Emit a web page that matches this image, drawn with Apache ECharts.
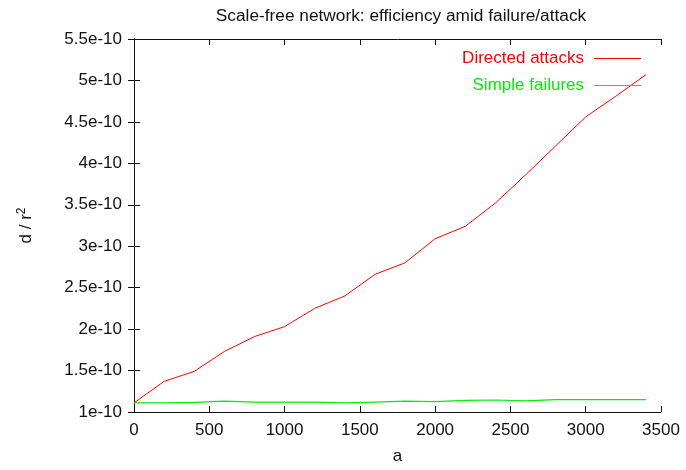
<!DOCTYPE html>
<html>
<head>
<meta charset="utf-8">
<script src="https://cdn.jsdelivr.net/npm/echarts@6/dist/echarts.min.js"></script>
<style>
  html, body { margin: 0; padding: 0; background: #fff; }
  #chart { width: 686px; height: 470px; }
</style>
</head>
<body>
<div id="chart"></div>
<script>
// values
const aValues = [0, 200, 400, 600, 800, 1000, 1200, 1400, 1600, 1800, 2000, 2200, 2400, 2600, 2800, 3000, 3200, 3400]
const directedAttacks = [1.11e-10, 1.37e-10, 1.49e-10, 1.73e-10, 1.91e-10, 2.03e-10, 2.25e-10, 2.40e-10, 2.66e-10, 2.80e-10,
  3.09e-10, 3.24e-10, 3.52e-10, 3.86e-10, 4.21e-10, 4.56e-10, 4.81e-10, 5.07e-10]
const simpleFailures = [1.11e-10, 1.11e-10, 1.115e-10, 1.13e-10, 1.12e-10, 1.12e-10, 1.12e-10, 1.11e-10, 1.12e-10, 1.13e-10,
  1.125e-10, 1.14e-10, 1.145e-10, 1.135e-10, 1.15e-10, 1.15e-10, 1.15e-10, 1.15e-10]
const xTicks = { min: 0, max: 3500, interval: 500 }
const yTicks = { min: 1e-10, max: 5.5e-10, interval: 0.5e-10 }

const font = 'Liberation Sans, Arial, Helvetica, sans-serif'
const ink = '#111'

function yLabel(v) {
  const m = Math.round(v * 1e12) / 100
  return m + 'e-10'
}

const chart = echarts.init(document.getElementById('chart'))

const tickStyle = { show: true, inside: true, length: 6, lineStyle: { color: ink, width: 1 } }
const borderLine = { show: true, lineStyle: { color: ink, width: 1 } }

chart.setOption({
  animation: false,
  backgroundColor: '#fff',
  title: {
    text: 'Scale-free network: efficiency amid failure/attack',
    left: 396,
    textAlign: 'center',
    top: 3,
    textStyle: { fontFamily: font, fontSize: 17.3, fontWeight: 'normal', color: ink },
  },
  legend: {
    orient: 'vertical',
    right: 40,
    top: 45,
    align: 'right',
    icon: 'rect',
    itemWidth: 47,
    itemHeight: 1,
    itemGap: 10,
    data: [
      { name: 'Directed attacks', textStyle: { color: '#ff0000' } },
      { name: 'Simple failures', textStyle: { color: '#00ee00' } },
    ],
    textStyle: { fontFamily: font, fontSize: 17, lineHeight: 17, padding: [0, 5, 0, 0] },
  },
  grid: {
    left: 134,
    right: 25,
    top: 39,
    bottom: 54,
  },
  xAxis: [
    {
      type: 'value',
      min: xTicks.min,
      max: xTicks.max,
      interval: xTicks.interval,
      name: 'a',
      nameLocation: 'middle',
      nameGap: 36,
      nameTextStyle: { fontFamily: font, fontSize: 17, color: ink },
      axisLine: borderLine,
      axisTick: tickStyle,
      axisLabel: { fontFamily: font, fontSize: 17, color: ink, margin: 10, formatter: v => String(v) },
      splitLine: { show: false },
    },
    {
      type: 'value',
      position: 'top',
      min: xTicks.min,
      max: xTicks.max,
      interval: xTicks.interval,
      axisLine: borderLine,
      axisTick: tickStyle,
      axisLabel: { show: false },
      splitLine: { show: false },
    },
  ],
  yAxis: [
    {
      type: 'value',
      min: yTicks.min,
      max: yTicks.max,
      interval: yTicks.interval,
      name: '{n|d / r}{s|2}',
      nameLocation: 'middle',
      nameGap: 98,
      nameRotate: 90,
      nameTextStyle: {
        rich: {
          n: { fontFamily: font, fontSize: 17, color: ink },
          s: { fontFamily: font, fontSize: 12, color: ink, verticalAlign: 'top', padding: [0, 0, 8, 0] },
        },
      },
      axisLine: borderLine,
      axisTick: tickStyle,
      axisLabel: { fontFamily: font, fontSize: 17, color: ink, margin: 12, formatter: yLabel },
      splitLine: { show: false },
    },
    {
      type: 'value',
      position: 'right',
      min: yTicks.min,
      max: yTicks.max,
      interval: yTicks.interval,
      axisLine: borderLine,
      axisTick: tickStyle,
      axisLabel: { show: false },
      splitLine: { show: false },
    },
  ],
  series: [
    {
      name: 'Directed attacks',
      type: 'line',
      symbol: 'none',
      color: '#ff0000',
      lineStyle: { width: 1, color: '#ff0000' },
      data: aValues.map((a, i) => [a, directedAttacks[i]]),
    },
    {
      name: 'Simple failures',
      type: 'line',
      symbol: 'none',
      color: '#00ee00',
      lineStyle: { width: 1.2, color: '#00ee00' },
      data: aValues.map((a, i) => [a, simpleFailures[i]]),
    },
  ],
})
</script>
</body>
</html>
